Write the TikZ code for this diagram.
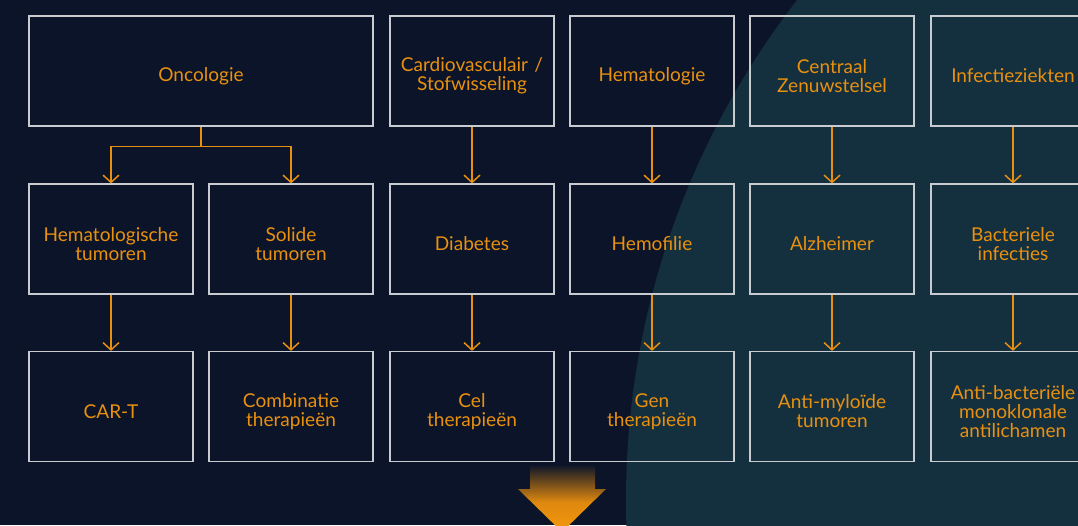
\documentclass[tikz,border=0pt]{standalone}
\usepackage{fontspec}
\setmainfont{Lato}
\usetikzlibrary{arrows.meta}
\definecolor{bgnavy}{HTML}{0B1429}
\definecolor{tealbg}{HTML}{14303F}
\definecolor{boxline}{HTML}{C8CCD0}
\definecolor{orangetxt}{HTML}{E8900F}
\definecolor{orangeA}{HTML}{DE880E}
\definecolor{orangeB}{HTML}{F5980C}
\pgfdeclareverticalshading{fadearrow}{100bp}{color(0bp)=(orangeB); color(25bp)=(orangeB); color(45bp)=(orangeA); color(70bp)=(bgnavy); color(100bp)=(bgnavy)}
\tikzset{
  area/.style={draw=boxline, line width=0.9pt, text=orangetxt, align=center,
    text width=123pt, minimum width=123pt, minimum height=82.5pt, inner sep=0pt,
    font=\fontsize{14.3}{14.3}\selectfont,
    execute at begin node={\rule{0pt}{18pt}}},
  link/.style={draw=orangetxt, line width=1.1pt, -{Straight Barb[length=5.5pt,width=12pt]}}
}
\begin{document}
\begin{tikzpicture}[x=0.75pt, y=-0.75pt]
  \useasboundingbox (0,0) rectangle (1078,525);
  \clip (0,0) rectangle (1078,525);
  % background and circle
  \fill[bgnavy] (0,0) rectangle (1078,525);
  \fill[tealbg] (1442,500) circle [radius=816];
  % big arrow at the bottom
  \shade[shading=fadearrow] (530,457) -- (595,457) -- (595,489) -- (606,489)
    -- (562,532) -- (518,489) -- (530,489) -- cycle;
  % top row
  \node[area, text width=258pt, minimum width=258pt] (onco) at (201,71) {Oncologie};
  \node[area] (cardio) at (472,71) {Cardiovasculair /\\Stofwisseling};
  \node[area] (hema) at (652,71) {Hematologie};
  \node[area] (czs) at (832,71) {Centraal\\Zenuwstelsel};
  \node[area] (infect) at (1013,71) {Infectieziekten};
  % middle row
  \node[area] (hemtum) at (111,239) {Hematologische\\tumoren};
  \node[area] (soltum) at (291,239) {Solide\\tumoren};
  \node[area] (diab) at (472,239) {Diabetes};
  \node[area] (hemof) at (652,239) {Hemofilie};
  \node[area] (alz) at (832,239) {Alzheimer};
  \node[area] (bact) at (1013,239) {Bacteriele\\infecties};
  % bottom row
  \node[area] (cart) at (111,406.5) {CAR-T};
  \node[area] (combi) at (291,406.5) {Combinatie\\therapieën};
  \node[area] (cel) at (472,406.5) {Cel\\therapieën};
  \node[area] (gen) at (652,406.5) {Gen\\therapieën};
  \node[area] (amyl) at (832,406.5) {Anti-myloïde\\tumoren};
  \node[area] (antib) at (1013,406.5) {Anti-bacteriële\\monoklonale\\antilichamen};
  % connectors
  \draw[orangetxt, line width=1.1pt] (onco.south) -- ++(0,20) coordinate (fork);
  \draw[link] (fork) -| (hemtum.north);
  \draw[link] (fork) -| (soltum.north);
  \draw[link] (cardio) -- (diab);
  \draw[link] (hema) -- (hemof);
  \draw[link] (czs) -- (alz);
  \draw[link] (infect) -- (bact);
  \draw[link] (hemtum) -- (cart);
  \draw[link] (soltum) -- (combi);
  \draw[link] (diab) -- (cel);
  \draw[link] (hemof) -- (gen);
  \draw[link] (alz) -- (amyl);
  \draw[link] (bact) -- (antib);
\end{tikzpicture}
\end{document}
